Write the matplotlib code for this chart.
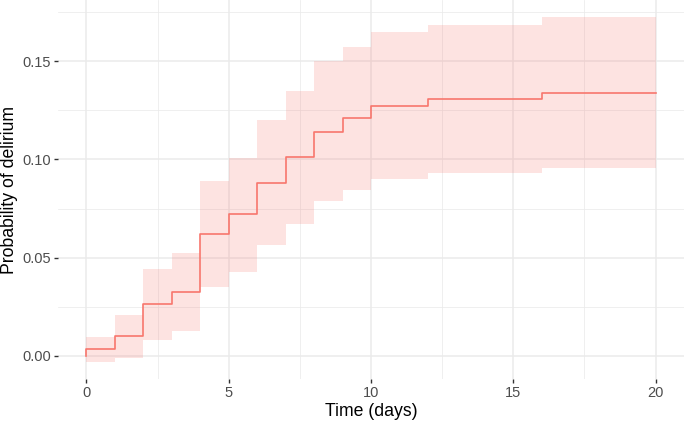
import matplotlib.pyplot as plt
import matplotlib as mpl

# step times (days) and cumulative probability with 95% band
times = [0, 1, 2, 3, 4, 5, 6, 7, 8, 9, 10, 12, 16, 20]
prob = [0.0033, 0.0099, 0.0262, 0.0325, 0.062, 0.072, 0.088, 0.101, 0.114, 0.121, 0.127, 0.131, 0.134, 0.134]
lower = [-0.003, -0.001, 0.0082, 0.0128, 0.035, 0.0429, 0.0565, 0.0673, 0.0786, 0.0842, 0.090, 0.0929, 0.0958, 0.0958]
upper = [0.0095, 0.0208, 0.0441, 0.0524, 0.0891, 0.1009, 0.120, 0.135, 0.150, 0.1575, 0.1648, 0.1686, 0.1724, 0.1724]

mpl.rcParams['font.family'] = ['Liberation Sans', 'DejaVu Sans']
col = '#F8766D'

fig = plt.figure(figsize=(6.85, 4.23), dpi=100)
ax = fig.add_axes([58 / 685, 44 / 423, 626 / 685, 379 / 423])

ax.fill_between(times, lower, upper, step='post', color=col, alpha=0.2, linewidth=0)
ax.step([0] + times, [0] + prob, where='post', color=col, linewidth=1.2)

ax.set_xlim(-1, 21)
ax.set_ylim(-0.0118, 0.1812)
ax.set_xticks([0, 5, 10, 15, 20])
ax.set_xticks([2.5, 7.5, 12.5, 17.5], minor=True)
ax.set_yticks([0, 0.05, 0.10, 0.15])
ax.set_yticks([0.025, 0.075, 0.125, 0.175], minor=True)
ax.set_yticklabels(['0.00', '0.05', '0.10', '0.15'])

ax.grid(True, which='major', color='#EBEBEB', linewidth=1.1)
ax.grid(True, which='minor', color='#EBEBEB', linewidth=0.55)
ax.set_axisbelow(True)
for s in ax.spines.values():
    s.set_visible(False)
ax.tick_params(which='major', length=3, width=1, color='#333333', labelcolor='#4D4D4D', labelsize=10.5, pad=2)
ax.tick_params(which='minor', length=0)

ax.set_xlabel('Time (days)', fontsize=12.7, color='black', labelpad=2)
ax.set_ylabel('Probability of delirium', fontsize=12.7, color='black', labelpad=3)

plt.savefig('out.png')
